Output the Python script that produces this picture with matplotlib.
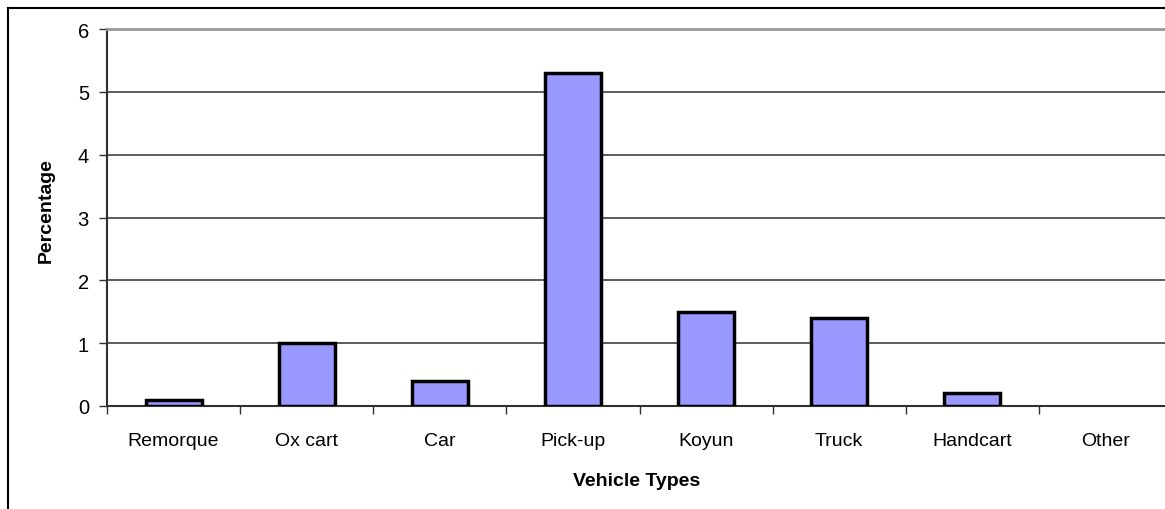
import matplotlib
matplotlib.use("Agg")
import matplotlib.pyplot as plt
from matplotlib.lines import Line2D

categories = ["Remorque", "Ox cart", "Car", "Pick-up", "Koyun", "Truck", "Handcart", "Other"]
values = [0.1, 1.0, 0.4, 5.3, 1.5, 1.4, 0.2, 0.0]
yticks = [0, 1, 2, 3, 4, 5, 6]

plt.rcParams['font.family'] = ['Liberation Sans', 'DejaVu Sans']

W, H = 1165, 510
fig = plt.figure(figsize=(W / 100, H / 100), dpi=100)
fig.patch.set_facecolor('white')

left_px, right_px, top_px, bottom_px = 107, 1172, 30, 407
ax = fig.add_axes([left_px / W, 1 - bottom_px / H, (right_px - left_px) / W, (bottom_px - top_px) / H])

x = list(range(len(categories)))
edge_widths = [2.5 if v > 0 else 0 for v in values]
ax.bar(x, values, width=0.42, color='#9999FF', edgecolor='black', linewidth=edge_widths, zorder=3)

ax.set_xlim(-0.5, len(categories) - 0.5)
ax.set_ylim(0, 6)
ax.set_yticks(yticks)
ax.set_yticklabels([str(t) for t in yticks], fontsize=14.5)
ax.yaxis.grid(True, color='#303030', linewidth=1.1, zorder=1)
ax.set_axisbelow(True)

ax.set_xticks(x)
ax.set_xticklabels(categories, fontsize=14)
ax.set_xticks([i - 0.5 for i in range(len(categories) + 1)], minor=True)
ax.tick_params(axis='x', which='major', length=0, pad=19)
ax.tick_params(axis='x', which='minor', length=5.5, width=1, color='#303030', direction='out')
ax.tick_params(axis='y', which='major', length=6, width=1, color='#303030', direction='out', pad=7)

ax.spines['right'].set_visible(False)
ax.spines['top'].set_color('#999999')
ax.spines['top'].set_linewidth(2)
ax.spines['left'].set_color('#303030')
ax.spines['left'].set_linewidth(1.5)
ax.spines['bottom'].set_color('#303030')
ax.spines['bottom'].set_linewidth(1.5)

fig.text(46 / W, 1 - 211 / H, 'Percentage', rotation=90, ha='center', va='center',
         fontsize=14, fontweight='bold')
fig.text(637 / W, 1 - 482 / H, 'Vehicle Types', ha='center', va='center',
         fontsize=14, fontweight='bold')

# outer chart border (left and top edges visible)
fig.add_artist(Line2D([8 / W, 8 / W], [0, 1 - 9 / H], transform=fig.transFigure,
                      color='black', linewidth=1.5))
fig.add_artist(Line2D([8 / W, 1], [1 - 9 / H, 1 - 9 / H], transform=fig.transFigure,
                      color='black', linewidth=1.5))

fig.savefig('out.png', dpi=100)
